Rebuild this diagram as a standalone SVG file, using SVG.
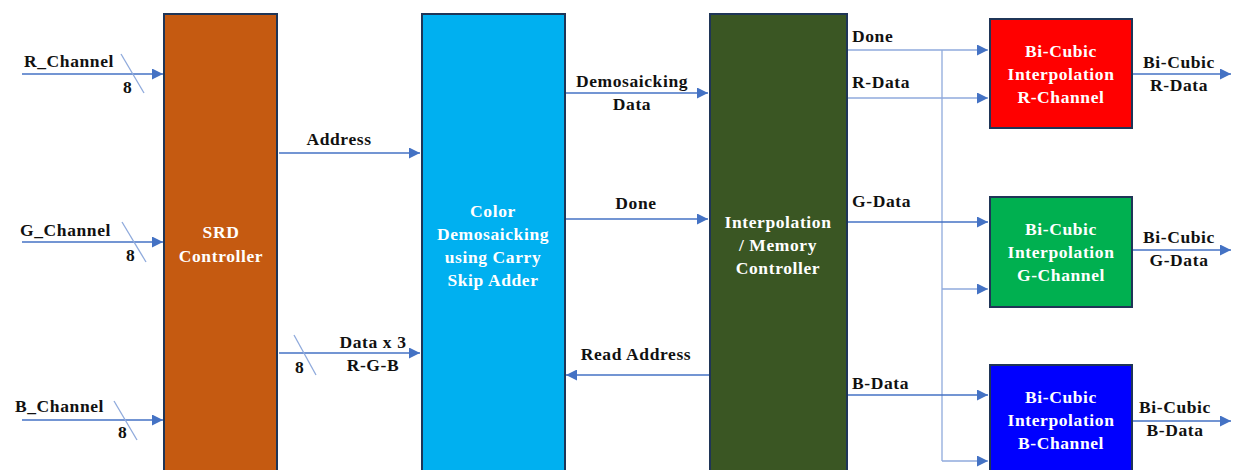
<svg xmlns="http://www.w3.org/2000/svg" width="1237" height="470" viewBox="0 0 1237 470">
  <defs>
    <style>
      .box { stroke: #1f3557; stroke-width: 2; }
      .lbl { font-family: "Liberation Serif", "Times New Roman", serif; font-weight: bold; font-size: 17.5px; fill: #111; letter-spacing: 0.6px; }
      .in { font-family: "Liberation Serif", "Times New Roman", serif; font-weight: bold; font-size: 17.5px; fill: #ffffff; text-anchor: middle; letter-spacing: 0.6px; }
      .mid { text-anchor: middle; }
      .wire { stroke: #4472c4; stroke-width: 1.5; fill: none; }
      .thin { stroke: #8faadc; stroke-width: 1.3; fill: none; }
    </style>
    <marker id="arrowL" viewBox="0 0 10 10" refX="10" refY="5" markerWidth="11" markerHeight="11" markerUnits="userSpaceOnUse" orient="auto">
      <path d="M0,0 L10,5 L0,10 z" fill="#4472c4"/>
    </marker>
  </defs>
  <rect width="1237" height="470" fill="#ffffff"/>

  <!-- connectors -->
  <g id="connectors">
    <!-- input channels -->
    <line class="wire" x1="22" y1="74" x2="163" y2="74" marker-end="url(#arrowL)"/>
    <line class="thin" x1="121" y1="54" x2="144" y2="93"/>
    <text class="lbl" x="24" y="67">R_Channel</text>
    <text class="lbl" x="123" y="93">8</text>

    <line class="wire" x1="22" y1="242" x2="163" y2="242" marker-end="url(#arrowL)"/>
    <line class="thin" x1="122" y1="222" x2="146" y2="262"/>
    <text class="lbl" x="20" y="236">G_Channel</text>
    <text class="lbl" x="126" y="261">8</text>

    <line class="wire" x1="22" y1="420" x2="163" y2="420" marker-end="url(#arrowL)"/>
    <line class="thin" x1="114" y1="401" x2="137" y2="440"/>
    <text class="lbl" x="15" y="412">B_Channel</text>
    <text class="lbl" x="118" y="438">8</text>

    <!-- SRD to demosaicking -->
    <line class="wire" x1="279" y1="153" x2="420" y2="153" marker-end="url(#arrowL)"/>
    <text class="lbl mid" x="339" y="145">Address</text>

    <line class="wire" x1="279" y1="353" x2="420" y2="353" marker-end="url(#arrowL)"/>
    <line class="thin" x1="294" y1="335" x2="316" y2="375"/>
    <text class="lbl mid" x="373" y="348">Data x 3</text>
    <text class="lbl mid" x="373" y="371">R-G-B</text>
    <text class="lbl" x="295" y="373">8</text>

    <!-- demosaicking to interpolation controller -->
    <line class="wire" x1="566" y1="93" x2="708" y2="93" marker-end="url(#arrowL)"/>
    <text class="lbl mid" x="632" y="87">Demosaicking</text>
    <text class="lbl mid" x="632" y="110">Data</text>

    <line class="wire" x1="566" y1="219" x2="708" y2="219" marker-end="url(#arrowL)"/>
    <text class="lbl mid" x="636" y="209">Done</text>

    <line class="wire" x1="709" y1="375" x2="566" y2="375" marker-end="url(#arrowL)"/>
    <text class="lbl mid" x="636" y="360">Read Address</text>

    <!-- interpolation controller to bi-cubic units -->
    <line class="thin" x1="848" y1="50" x2="988" y2="50" marker-end="url(#arrowL)"/>
    <text class="lbl" x="852" y="42">Done</text>
    <line class="thin" x1="942" y1="50" x2="942" y2="461"/>
    <line class="thin" x1="942" y1="289" x2="988" y2="289" marker-end="url(#arrowL)"/>
    <line class="thin" x1="942" y1="461" x2="988" y2="461" marker-end="url(#arrowL)"/>

    <line class="thin" x1="848" y1="98" x2="988" y2="98" marker-end="url(#arrowL)"/>
    <text class="lbl" x="852" y="88">R-Data</text>

    <line class="wire" x1="848" y1="222" x2="988" y2="222" marker-end="url(#arrowL)"/>
    <text class="lbl" x="852" y="207">G-Data</text>

    <line class="wire" x1="848" y1="395" x2="988" y2="395" marker-end="url(#arrowL)"/>
    <text class="lbl" x="852" y="389">B-Data</text>

    <!-- outputs -->
    <line class="wire" x1="1133" y1="74" x2="1231" y2="74" marker-end="url(#arrowL)"/>
    <text class="lbl mid" x="1179" y="68">Bi-Cubic</text>
    <text class="lbl mid" x="1179" y="91">R-Data</text>

    <line class="wire" x1="1133" y1="250" x2="1231" y2="250" marker-end="url(#arrowL)"/>
    <text class="lbl mid" x="1179" y="243">Bi-Cubic</text>
    <text class="lbl mid" x="1179" y="266">G-Data</text>

    <line class="wire" x1="1133" y1="421" x2="1231" y2="421" marker-end="url(#arrowL)"/>
    <text class="lbl mid" x="1175" y="413">Bi-Cubic</text>
    <text class="lbl mid" x="1175" y="436">B-Data</text>
  </g>

  <!-- SRD controller -->
  <g id="srd-controller">
    <rect class="box" x="164" y="14" width="113" height="470" fill="#c55a11"/>
    <text class="in" x="221" y="238">SRD</text>
    <text class="in" x="221" y="262">Controller</text>
  </g>

  <!-- color demosaicking -->
  <g id="color-demosaicking">
    <rect class="box" x="422" y="14" width="143" height="470" fill="#00b0f0"/>
    <text class="in" x="493" y="217">Color</text>
    <text class="in" x="493" y="240">Demosaicking</text>
    <text class="in" x="493" y="263">using Carry</text>
    <text class="in" x="493" y="286">Skip Adder</text>
  </g>

  <!-- interpolation / memory controller -->
  <g id="interp-controller">
    <rect class="box" x="710" y="14" width="137" height="470" fill="#3a5623"/>
    <text class="in" x="778" y="228">Interpolation</text>
    <text class="in" x="778" y="251">/ Memory</text>
    <text class="in" x="778" y="274">Controller</text>
  </g>

  <!-- bi-cubic units -->
  <g id="bicubic-r">
    <rect class="box" x="990" y="19" width="142" height="109" fill="#ff0000"/>
    <text class="in" x="1061" y="57">Bi-Cubic</text>
    <text class="in" x="1061" y="80">Interpolation</text>
    <text class="in" x="1061" y="103">R-Channel</text>
  </g>
  <g id="bicubic-g">
    <rect class="box" x="990" y="197" width="142" height="110" fill="#00b050"/>
    <text class="in" x="1061" y="235">Bi-Cubic</text>
    <text class="in" x="1061" y="258">Interpolation</text>
    <text class="in" x="1061" y="281">G-Channel</text>
  </g>
  <g id="bicubic-b">
    <rect class="box" x="990" y="365" width="142" height="120" fill="#0000ff"/>
    <text class="in" x="1061" y="403">Bi-Cubic</text>
    <text class="in" x="1061" y="426">Interpolation</text>
    <text class="in" x="1061" y="449">B-Channel</text>
  </g>
</svg>
